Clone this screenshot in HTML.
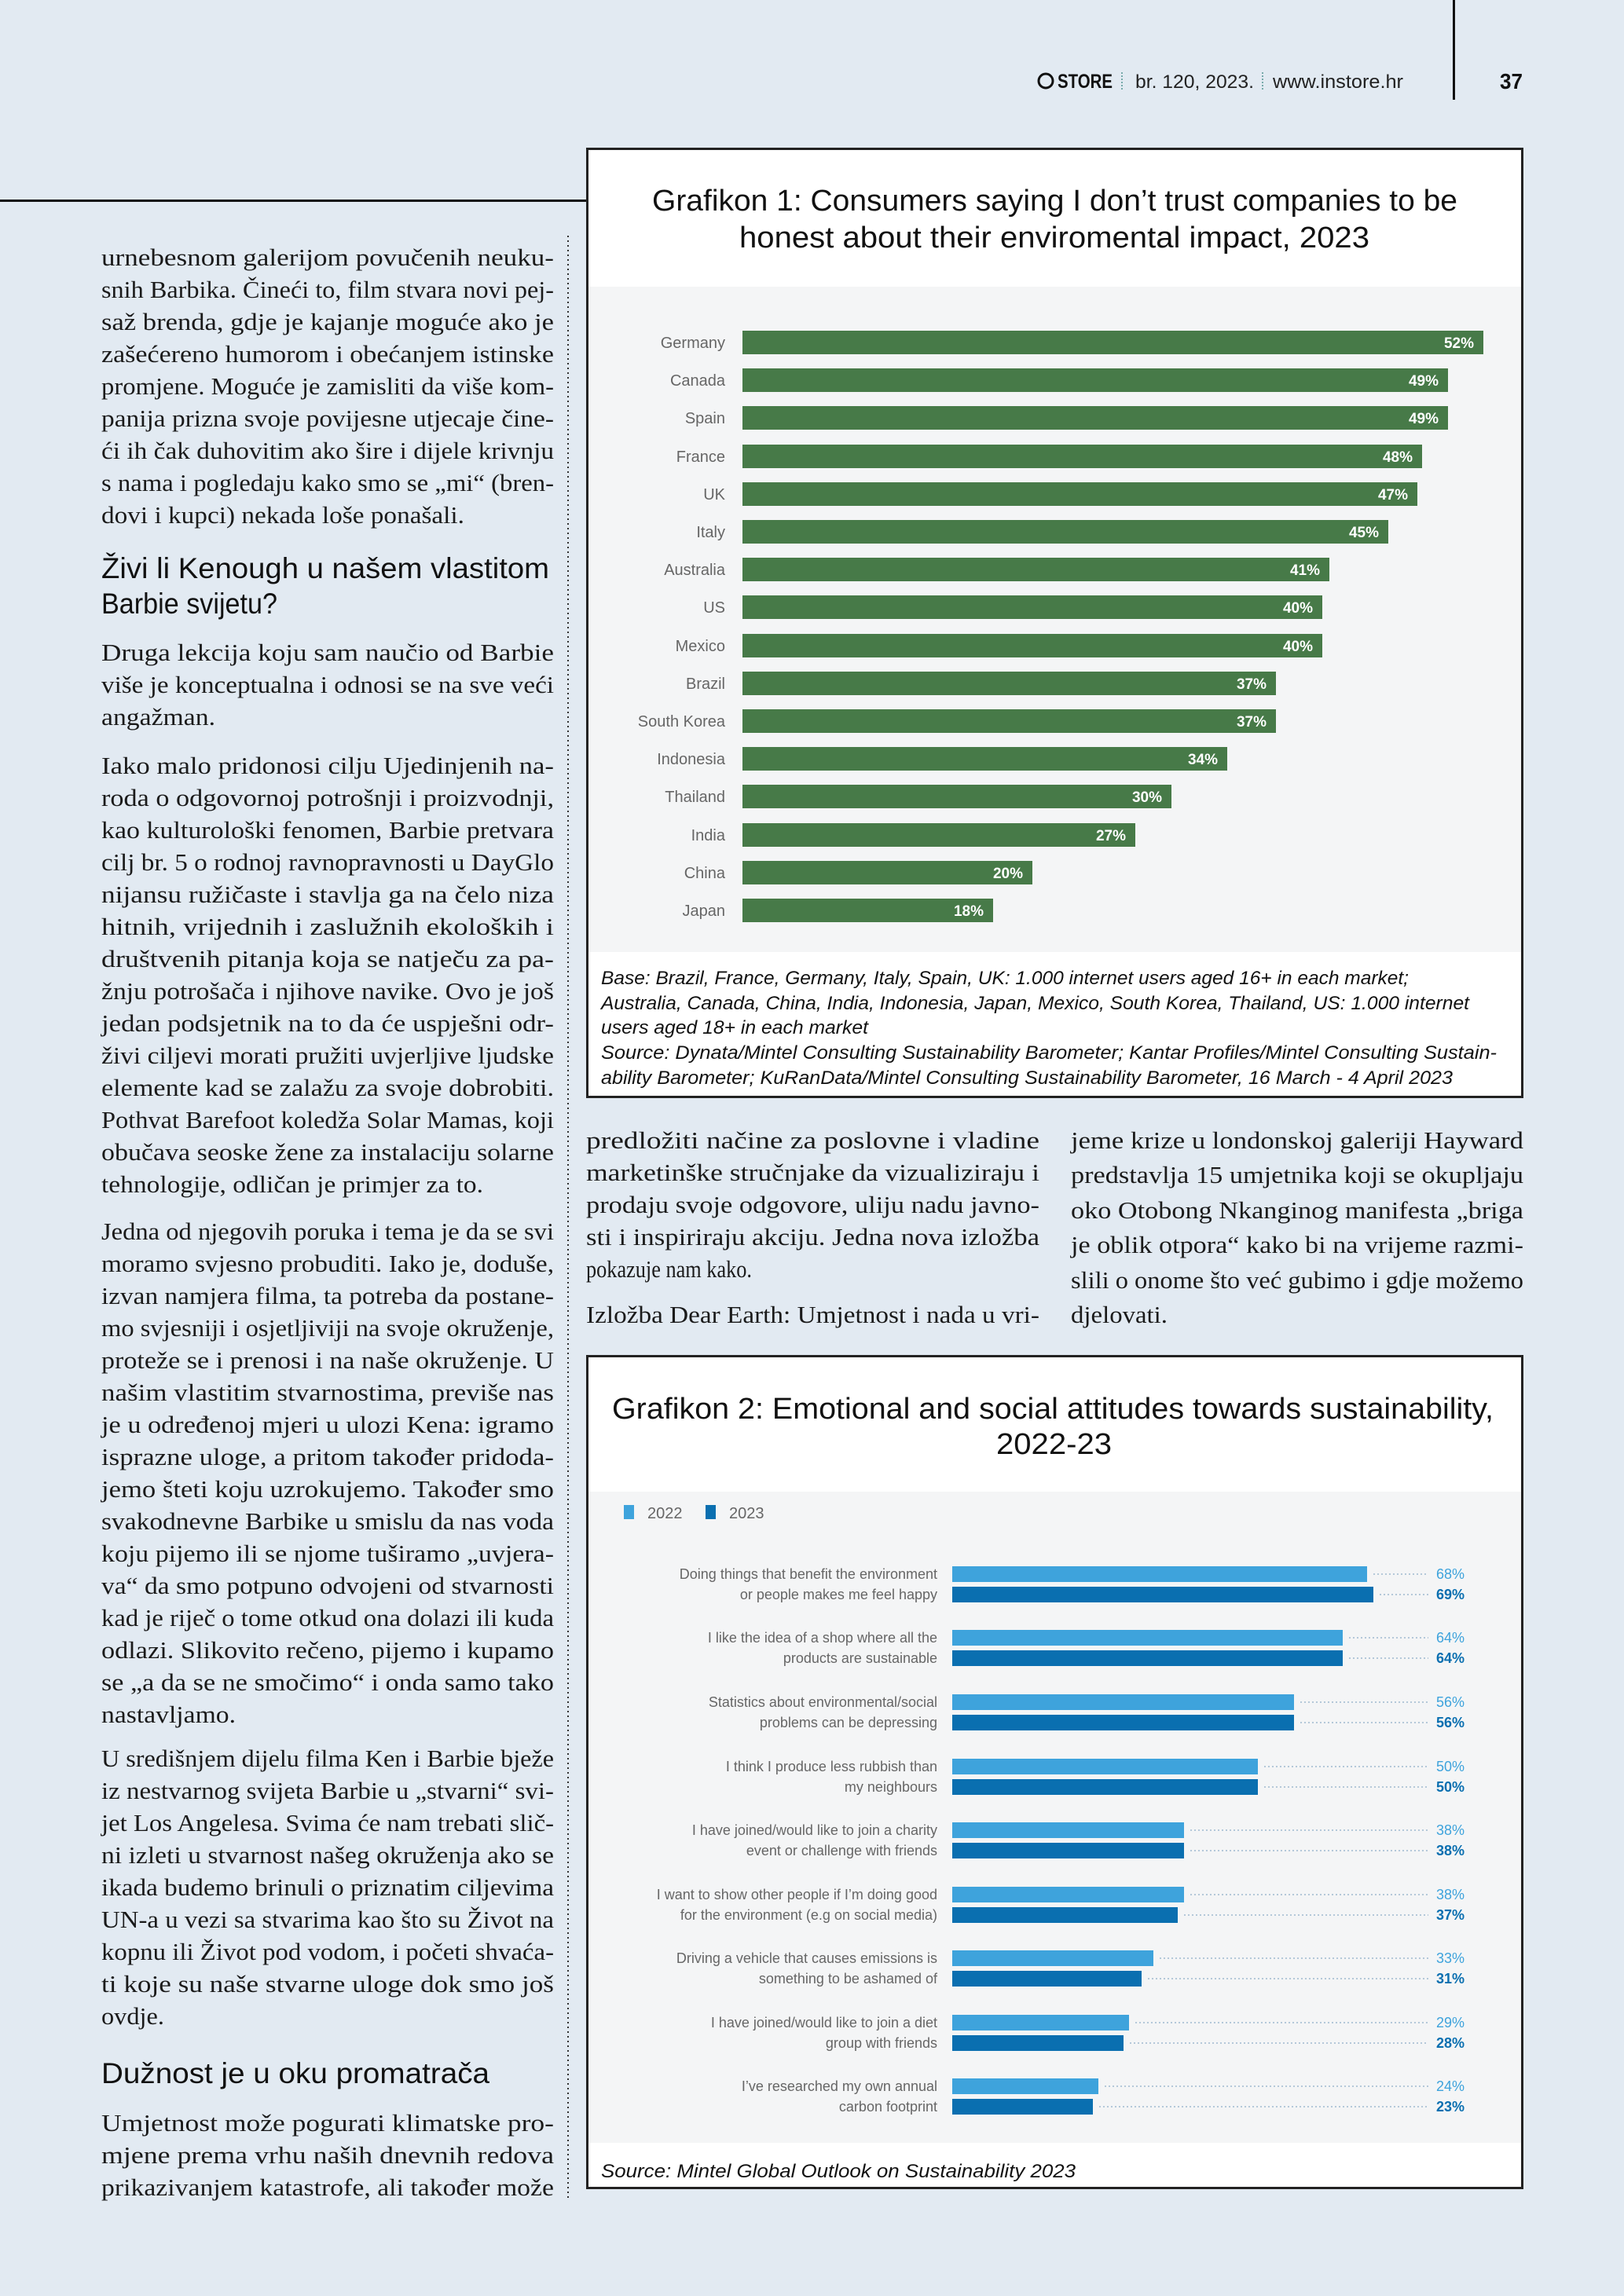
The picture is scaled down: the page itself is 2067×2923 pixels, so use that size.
<!DOCTYPE html>
<html><head><meta charset="utf-8"><style>
html,body{margin:0;padding:0;background:#e2eaf2;}
svg{display:block}
.b{font-family:"Liberation Serif",serif;font-size:31px;fill:#1a1a1a}
.h{font-family:"Liberation Sans",sans-serif;font-size:37px;fill:#111}
.t{font-family:"Liberation Sans",sans-serif;font-size:38px;fill:#111}
.l1{font-family:"Liberation Sans",sans-serif;font-size:20px;fill:#666;text-anchor:end}
.v1{font-family:"Liberation Sans",sans-serif;font-size:19px;fill:#fff;font-weight:bold;text-anchor:end}
.l2{font-family:"Liberation Sans",sans-serif;font-size:18px;fill:#666;text-anchor:end}
.va{font-family:"Liberation Sans",sans-serif;font-size:18px;fill:#3ea3dc;text-anchor:end}
.vb{font-family:"Liberation Sans",sans-serif;font-size:18px;fill:#0a6fb0;font-weight:bold;text-anchor:end}
.n{font-family:"Liberation Sans",sans-serif;font-size:24px;font-style:italic;fill:#111}
</style></head><body>
<svg width="2067" height="2923" viewBox="0 0 2067 2923" xmlns="http://www.w3.org/2000/svg">
<rect width="2067" height="2923" fill="#e2eaf2"/>
<!-- header -->
<rect x="1849" y="0" width="3" height="127" fill="#111"/>
<circle cx="1331" cy="103" r="9" fill="none" stroke="#111" stroke-width="3"/>
<text x="1346" y="112" font-family="Liberation Sans" font-weight="bold" font-size="25" fill="#111" textLength="70" lengthAdjust="spacingAndGlyphs">STORE</text>
<line x1="1428" y1="92" x2="1428" y2="116" stroke="#7aa" stroke-width="2" stroke-dasharray="2 2"/>
<text x="1445" y="112" font-family="Liberation Sans" font-size="24" fill="#222" textLength="151" lengthAdjust="spacingAndGlyphs">br. 120, 2023.</text>
<line x1="1607" y1="92" x2="1607" y2="116" stroke="#7aa" stroke-width="2" stroke-dasharray="2 2"/>
<text x="1620" y="112" font-family="Liberation Sans" font-size="24" fill="#222" textLength="166" lengthAdjust="spacingAndGlyphs">www.instore.hr</text>
<text x="1909" y="113" font-family="Liberation Sans" font-weight="bold" font-size="28" fill="#111" textLength="29" lengthAdjust="spacingAndGlyphs">37</text>
<rect x="0" y="254" width="746" height="3" fill="#111"/>
<line x1="723" y1="300" x2="723" y2="2800" stroke="#333" stroke-width="2" stroke-dasharray="2 4"/>

<!-- left column -->
<g class="b">
<text x="129" y="338" textLength="576" lengthAdjust="spacingAndGlyphs">urnebesnom galerijom povučenih neuku-</text>
<text x="129" y="379" textLength="576" lengthAdjust="spacingAndGlyphs">snih Barbika. Čineći to, film stvara novi pej-</text>
<text x="129" y="420" textLength="576" lengthAdjust="spacingAndGlyphs">saž brenda, gdje je kajanje moguće ako je</text>
<text x="129" y="461" textLength="576" lengthAdjust="spacingAndGlyphs">zašećereno humorom i obećanjem istinske</text>
<text x="129" y="502" textLength="576" lengthAdjust="spacingAndGlyphs">promjene. Moguće je zamisliti da više kom-</text>
<text x="129" y="543" textLength="576" lengthAdjust="spacingAndGlyphs">panija prizna svoje povijesne utjecaje čine-</text>
<text x="129" y="584" textLength="576" lengthAdjust="spacingAndGlyphs">ći ih čak duhovitim ako šire i dijele krivnju</text>
<text x="129" y="625" textLength="576" lengthAdjust="spacingAndGlyphs">s nama i pogledaju kako smo se „mi“ (bren-</text>
<text x="129" y="666" textLength="462" lengthAdjust="spacingAndGlyphs">dovi i kupci) nekada loše ponašali.</text>

<text x="129" y="841" textLength="576" lengthAdjust="spacingAndGlyphs">Druga lekcija koju sam naučio od Barbie</text>
<text x="129" y="882" textLength="576" lengthAdjust="spacingAndGlyphs">više je konceptualna i odnosi se na sve veći</text>
<text x="129" y="923" textLength="145" lengthAdjust="spacingAndGlyphs">angažman.</text>

<text x="129" y="985" textLength="576" lengthAdjust="spacingAndGlyphs">Iako malo pridonosi cilju Ujedinjenih na-</text>
<text x="129" y="1026" textLength="576" lengthAdjust="spacingAndGlyphs">roda o odgovornoj potrošnji i proizvodnji,</text>
<text x="129" y="1067" textLength="576" lengthAdjust="spacingAndGlyphs">kao kulturološki fenomen, Barbie pretvara</text>
<text x="129" y="1108" textLength="576" lengthAdjust="spacingAndGlyphs">cilj br. 5 o rodnoj ravnopravnosti u DayGlo</text>
<text x="129" y="1149" textLength="576" lengthAdjust="spacingAndGlyphs">nijansu ružičaste i stavlja ga na čelo niza</text>
<text x="129" y="1190" textLength="576" lengthAdjust="spacingAndGlyphs">hitnih, vrijednih i zaslužnih ekoloških i</text>
<text x="129" y="1231" textLength="576" lengthAdjust="spacingAndGlyphs">društvenih pitanja koja se natječu za pa-</text>
<text x="129" y="1272" textLength="576" lengthAdjust="spacingAndGlyphs">žnju potrošača i njihove navike. Ovo je još</text>
<text x="129" y="1313" textLength="576" lengthAdjust="spacingAndGlyphs">jedan podsjetnik na to da će uspješni odr-</text>
<text x="129" y="1354" textLength="576" lengthAdjust="spacingAndGlyphs">živi ciljevi morati pružiti uvjerljive ljudske</text>
<text x="129" y="1395" textLength="576" lengthAdjust="spacingAndGlyphs">elemente kad se zalažu za svoje dobrobiti.</text>
<text x="129" y="1436" textLength="576" lengthAdjust="spacingAndGlyphs">Pothvat Barefoot koledža Solar Mamas, koji</text>
<text x="129" y="1477" textLength="576" lengthAdjust="spacingAndGlyphs">obučava seoske žene za instalaciju solarne</text>
<text x="129" y="1518" textLength="486" lengthAdjust="spacingAndGlyphs">tehnologije, odličan je primjer za to.</text>

<text x="129" y="1578" textLength="576" lengthAdjust="spacingAndGlyphs">Jedna od njegovih poruka i tema je da se svi</text>
<text x="129" y="1619" textLength="576" lengthAdjust="spacingAndGlyphs">moramo svjesno probuditi. Iako je, doduše,</text>
<text x="129" y="1660" textLength="576" lengthAdjust="spacingAndGlyphs">izvan namjera filma, ta potreba da postane-</text>
<text x="129" y="1701" textLength="576" lengthAdjust="spacingAndGlyphs">mo svjesniji i osjetljiviji na svoje okruženje,</text>
<text x="129" y="1742" textLength="576" lengthAdjust="spacingAndGlyphs">proteže se i prenosi i na naše okruženje. U</text>
<text x="129" y="1783" textLength="576" lengthAdjust="spacingAndGlyphs">našim vlastitim stvarnostima, previše nas</text>
<text x="129" y="1824" textLength="576" lengthAdjust="spacingAndGlyphs">je u određenoj mjeri u ulozi Kena: igramo</text>
<text x="129" y="1865" textLength="576" lengthAdjust="spacingAndGlyphs">isprazne uloge, a pritom također pridoda-</text>
<text x="129" y="1906" textLength="576" lengthAdjust="spacingAndGlyphs">jemo šteti koju uzrokujemo. Također smo</text>
<text x="129" y="1947" textLength="576" lengthAdjust="spacingAndGlyphs">svakodnevne Barbike u smislu da nas voda</text>
<text x="129" y="1988" textLength="576" lengthAdjust="spacingAndGlyphs">koju pijemo ili se njome tuširamo „uvjera-</text>
<text x="129" y="2029" textLength="576" lengthAdjust="spacingAndGlyphs">va“ da smo potpuno odvojeni od stvarnosti</text>
<text x="129" y="2070" textLength="576" lengthAdjust="spacingAndGlyphs">kad je riječ o tome otkud ona dolazi ili kuda</text>
<text x="129" y="2111" textLength="576" lengthAdjust="spacingAndGlyphs">odlazi. Slikovito rečeno, pijemo i kupamo</text>
<text x="129" y="2152" textLength="576" lengthAdjust="spacingAndGlyphs">se „a da se ne smočimo“ i onda samo tako</text>
<text x="129" y="2193" textLength="171" lengthAdjust="spacingAndGlyphs">nastavljamo.</text>

<text x="129" y="2249" textLength="576" lengthAdjust="spacingAndGlyphs">U središnjem dijelu filma Ken i Barbie bježe</text>
<text x="129" y="2290" textLength="576" lengthAdjust="spacingAndGlyphs">iz nestvarnog svijeta Barbie u „stvarni“ svi-</text>
<text x="129" y="2331" textLength="576" lengthAdjust="spacingAndGlyphs">jet Los Angelesa. Svima će nam trebati slič-</text>
<text x="129" y="2372" textLength="576" lengthAdjust="spacingAndGlyphs">ni izleti u stvarnost našeg okruženja ako se</text>
<text x="129" y="2413" textLength="576" lengthAdjust="spacingAndGlyphs">ikada budemo brinuli o priznatim ciljevima</text>
<text x="129" y="2454" textLength="576" lengthAdjust="spacingAndGlyphs">UN-a u vezi sa stvarima kao što su Život na</text>
<text x="129" y="2495" textLength="576" lengthAdjust="spacingAndGlyphs">kopnu ili Život pod vodom, i početi shvaća-</text>
<text x="129" y="2536" textLength="576" lengthAdjust="spacingAndGlyphs">ti koje su naše stvarne uloge dok smo još</text>
<text x="129" y="2577" textLength="80" lengthAdjust="spacingAndGlyphs">ovdje.</text>

<text x="129" y="2713" textLength="576" lengthAdjust="spacingAndGlyphs">Umjetnost može pogurati klimatske pro-</text>
<text x="129" y="2754" textLength="576" lengthAdjust="spacingAndGlyphs">mjene prema vrhu naših dnevnih redova</text>
<text x="129" y="2795" textLength="576" lengthAdjust="spacingAndGlyphs">prikazivanjem katastrofe, ali također može</text>
</g>
<g class="h">
<text x="129" y="736" textLength="570" lengthAdjust="spacingAndGlyphs">Živi li Kenough u našem vlastitom</text>
<text x="129" y="781" textLength="224" lengthAdjust="spacingAndGlyphs">Barbie svijetu?</text>
<text x="129" y="2652" textLength="494" lengthAdjust="spacingAndGlyphs">Dužnost je u oku promatrača</text>
</g>

<!-- middle columns -->
<g class="b">
<text x="746" y="1462" textLength="577" lengthAdjust="spacingAndGlyphs">predložiti načine za poslovne i vladine</text>
<text x="746" y="1503" textLength="577" lengthAdjust="spacingAndGlyphs">marketinške stručnjake da vizualiziraju i</text>
<text x="746" y="1544" textLength="577" lengthAdjust="spacingAndGlyphs">prodaju svoje odgovore, uliju nadu javno-</text>
<text x="746" y="1585" textLength="577" lengthAdjust="spacingAndGlyphs">sti i inspiriraju akciju. Jedna nova izložba</text>
<text x="746" y="1626" textLength="211" lengthAdjust="spacingAndGlyphs">pokazuje nam kako.</text>
<text x="746" y="1684" textLength="577" lengthAdjust="spacingAndGlyphs">Izložba Dear Earth: Umjetnost i nada u vri-</text>

<text x="1363" y="1462" textLength="576" lengthAdjust="spacingAndGlyphs">jeme krize u londonskoj galeriji Hayward</text>
<text x="1363" y="1506" textLength="576" lengthAdjust="spacingAndGlyphs">predstavlja 15 umjetnika koji se okupljaju</text>
<text x="1363" y="1551" textLength="576" lengthAdjust="spacingAndGlyphs">oko Otobong Nkanginog manifesta „briga</text>
<text x="1363" y="1595" textLength="576" lengthAdjust="spacingAndGlyphs">je oblik otpora“ kako bi na vrijeme razmi-</text>
<text x="1363" y="1640" textLength="576" lengthAdjust="spacingAndGlyphs">slili o onome što već gubimo i gdje možemo</text>
<text x="1363" y="1684" textLength="123" lengthAdjust="spacingAndGlyphs">djelovati.</text>
</g>

<!-- chart 1 -->
<rect x="747.5" y="189.5" width="1190" height="1207" fill="#fff" stroke="#222" stroke-width="3"/>
<rect x="749" y="365" width="1187" height="847" fill="#f4f5f6"/>
<text class="t" x="830" y="268" textLength="1025" lengthAdjust="spacingAndGlyphs">Grafikon 1: Consumers saying I don’t trust companies to be</text>
<text class="t" x="941" y="315" textLength="802" lengthAdjust="spacingAndGlyphs">honest about their enviromental impact, 2023</text>
<g fill="#477a48">
<rect x="945" y="421" width="943" height="30"/>
<rect x="945" y="469" width="898" height="30"/>
<rect x="945" y="517" width="898" height="30"/>
<rect x="945" y="566" width="865" height="30"/>
<rect x="945" y="614" width="859" height="30"/>
<rect x="945" y="662" width="822" height="30"/>
<rect x="945" y="710" width="747" height="30"/>
<rect x="945" y="758" width="738" height="30"/>
<rect x="945" y="807" width="738" height="30"/>
<rect x="945" y="855" width="679" height="30"/>
<rect x="945" y="903" width="679" height="30"/>
<rect x="945" y="951" width="617" height="30"/>
<rect x="945" y="999" width="546" height="30"/>
<rect x="945" y="1048" width="500" height="30"/>
<rect x="945" y="1096" width="369" height="30"/>
<rect x="945" y="1144" width="319" height="30"/>
</g>
<g class="l1">
<text x="923" y="443">Germany</text><text x="923" y="491">Canada</text><text x="923" y="539">Spain</text><text x="923" y="588">France</text>
<text x="923" y="636">UK</text><text x="923" y="684">Italy</text><text x="923" y="732">Australia</text><text x="923" y="780">US</text>
<text x="923" y="829">Mexico</text><text x="923" y="877">Brazil</text><text x="923" y="925">South Korea</text><text x="923" y="973">Indonesia</text>
<text x="923" y="1021">Thailand</text><text x="923" y="1070">India</text><text x="923" y="1118">China</text><text x="923" y="1166">Japan</text>
</g>
<g class="v1">
<text x="1876" y="443">52%</text><text x="1831" y="491">49%</text><text x="1831" y="539">49%</text><text x="1798" y="588">48%</text>
<text x="1792" y="636">47%</text><text x="1755" y="684">45%</text><text x="1680" y="732">41%</text><text x="1671" y="780">40%</text>
<text x="1671" y="829">40%</text><text x="1612" y="877">37%</text><text x="1612" y="925">37%</text><text x="1550" y="973">34%</text>
<text x="1479" y="1021">30%</text><text x="1433" y="1070">27%</text><text x="1302" y="1118">20%</text><text x="1252" y="1166">18%</text>
</g>
<g class="n">
<text x="765" y="1253" textLength="1028" lengthAdjust="spacingAndGlyphs">Base: Brazil, France, Germany, Italy, Spain, UK: 1.000 internet users aged 16+ in each market;</text>
<text x="765" y="1285" textLength="1105" lengthAdjust="spacingAndGlyphs">Australia, Canada, China, India, Indonesia, Japan, Mexico, South Korea, Thailand, US: 1.000 internet</text>
<text x="765" y="1316" textLength="340" lengthAdjust="spacingAndGlyphs">users aged 18+ in each market</text>
<text x="765" y="1348" textLength="1140" lengthAdjust="spacingAndGlyphs">Source: Dynata/Mintel Consulting Sustainability Barometer; Kantar Profiles/Mintel Consulting Sustain-</text>
<text x="765" y="1380" textLength="1084" lengthAdjust="spacingAndGlyphs">ability Barometer; KuRanData/Mintel Consulting Sustainability Barometer, 16 March - 4 April 2023</text>
</g>

<!-- chart 2 -->
<rect x="747.5" y="1726.5" width="1190" height="1059" fill="#fff" stroke="#222" stroke-width="3"/>
<rect x="749" y="1899" width="1187" height="829" fill="#f4f5f6"/>
<text class="t" x="779" y="1806" textLength="1122" lengthAdjust="spacingAndGlyphs">Grafikon 2: Emotional and social attitudes towards sustainability,</text>
<text class="t" x="1268" y="1851" textLength="147" lengthAdjust="spacingAndGlyphs">2022-23</text>
<rect x="794" y="1916" width="13" height="18" fill="#3ea3dc"/>
<text x="824" y="1933" font-family="Liberation Sans" font-size="20" fill="#666">2022</text>
<rect x="898" y="1916" width="13" height="18" fill="#0a6fb0"/>
<text x="928" y="1933" font-family="Liberation Sans" font-size="20" fill="#666">2023</text>
<g fill="#3ea3dc">
<rect x="1212" y="1994" width="528" height="20"/>
<rect x="1212" y="2075" width="497" height="20"/>
<rect x="1212" y="2157" width="435" height="20"/>
<rect x="1212" y="2239" width="389" height="20"/>
<rect x="1212" y="2320" width="295" height="20"/>
<rect x="1212" y="2402" width="295" height="20"/>
<rect x="1212" y="2483" width="256" height="20"/>
<rect x="1212" y="2565" width="225" height="20"/>
<rect x="1212" y="2646" width="186" height="20"/>
</g>
<g fill="#0a6fb0">
<rect x="1212" y="2020" width="536" height="20"/>
<rect x="1212" y="2101" width="497" height="20"/>
<rect x="1212" y="2183" width="435" height="20"/>
<rect x="1212" y="2265" width="389" height="20"/>
<rect x="1212" y="2346" width="295" height="20"/>
<rect x="1212" y="2428" width="287" height="20"/>
<rect x="1212" y="2509" width="241" height="20"/>
<rect x="1212" y="2591" width="218" height="20"/>
<rect x="1212" y="2672" width="179" height="20"/>
</g>
<g stroke="#9fb9cf" stroke-width="1.5" stroke-dasharray="2 3">
<line x1="1748" y1="2004" x2="1818" y2="2004"/><line x1="1756" y1="2030" x2="1818" y2="2030"/>
<line x1="1717" y1="2085" x2="1818" y2="2085"/><line x1="1717" y1="2111" x2="1818" y2="2111"/>
<line x1="1655" y1="2167" x2="1818" y2="2167"/><line x1="1655" y1="2193" x2="1818" y2="2193"/>
<line x1="1609" y1="2249" x2="1818" y2="2249"/><line x1="1609" y1="2275" x2="1818" y2="2275"/>
<line x1="1515" y1="2330" x2="1818" y2="2330"/><line x1="1515" y1="2356" x2="1818" y2="2356"/>
<line x1="1515" y1="2412" x2="1818" y2="2412"/><line x1="1507" y1="2438" x2="1818" y2="2438"/>
<line x1="1476" y1="2493" x2="1818" y2="2493"/><line x1="1461" y1="2519" x2="1818" y2="2519"/>
<line x1="1445" y1="2575" x2="1818" y2="2575"/><line x1="1438" y1="2601" x2="1818" y2="2601"/>
<line x1="1406" y1="2656" x2="1818" y2="2656"/><line x1="1399" y1="2682" x2="1818" y2="2682"/>
</g>
<g class="va">
<text x="1864" y="2010">68%</text><text x="1864" y="2091">64%</text><text x="1864" y="2173">56%</text>
<text x="1864" y="2255">50%</text><text x="1864" y="2336">38%</text><text x="1864" y="2418">38%</text>
<text x="1864" y="2499">33%</text><text x="1864" y="2581">29%</text><text x="1864" y="2662">24%</text>
</g>
<g class="vb">
<text x="1864" y="2036">69%</text><text x="1864" y="2117">64%</text><text x="1864" y="2199">56%</text>
<text x="1864" y="2281">50%</text><text x="1864" y="2362">38%</text><text x="1864" y="2444">37%</text>
<text x="1864" y="2525">31%</text><text x="1864" y="2607">28%</text><text x="1864" y="2688">23%</text>
</g>
<g class="l2">
<text x="1193" y="2010">Doing things that benefit the environment</text><text x="1193" y="2036">or people makes me feel happy</text>
<text x="1193" y="2091">I like the idea of a shop where all the</text><text x="1193" y="2117">products are sustainable</text>
<text x="1193" y="2173">Statistics about environmental/social</text><text x="1193" y="2199">problems can be depressing</text>
<text x="1193" y="2255">I think I produce less rubbish than</text><text x="1193" y="2281">my neighbours</text>
<text x="1193" y="2336">I have joined/would like to join a charity</text><text x="1193" y="2362">event or challenge with friends</text>
<text x="1193" y="2418">I want to show other people if I’m doing good</text><text x="1193" y="2444">for the environment (e.g on social media)</text>
<text x="1193" y="2499">Driving a vehicle that causes emissions is</text><text x="1193" y="2525">something to be ashamed of</text>
<text x="1193" y="2581">I have joined/would like to join a diet</text><text x="1193" y="2607">group with friends</text>
<text x="1193" y="2662">I’ve researched my own annual</text><text x="1193" y="2688">carbon footprint</text>
</g>
<text class="n" x="765" y="2772" textLength="604" lengthAdjust="spacingAndGlyphs">Source: Mintel Global Outlook on Sustainability 2023</text>
</svg>
</body></html>
